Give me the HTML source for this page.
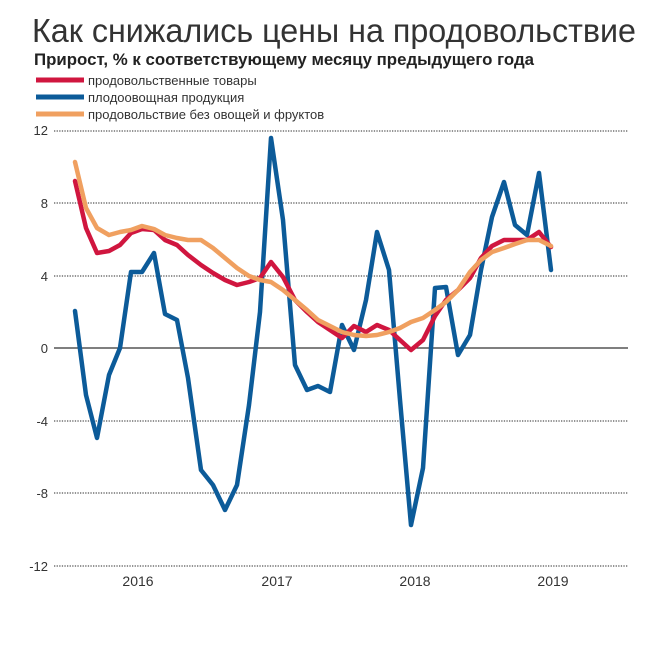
<!DOCTYPE html>
<html><head><meta charset="utf-8"><style>
body{margin:0;background:#fff;width:665px;height:640px;overflow:hidden;font-family:"Liberation Sans","DejaVu Sans",sans-serif}
</style></head><body>
<svg width="665" height="640" xmlns="http://www.w3.org/2000/svg" font-family="Liberation Sans, DejaVu Sans, sans-serif">
<text x="32" y="42" font-size="33" fill="#333" textLength="604" lengthAdjust="spacingAndGlyphs">Как снижались цены на продовольствие</text>
<text x="34" y="65" font-size="16.5" font-weight="bold" fill="#222" textLength="500" lengthAdjust="spacingAndGlyphs">Прирост, % к соответствующему месяцу предыдущего года</text>
<g stroke-width="5">
<line x1="36" y1="80" x2="84" y2="80" stroke="#d0163f"/>
<line x1="36" y1="97" x2="84" y2="97" stroke="#0c5b99"/>
<line x1="36" y1="114" x2="84" y2="114" stroke="#f0a060"/>
</g>
<g font-size="13" fill="#333">
<text x="88" y="85">продовольственные товары</text>
<text x="88" y="102">плодоовощная продукция</text>
<text x="88" y="119">продовольствие без овощей и фруктов</text>
</g>
<g stroke="#555" stroke-width="1.3" stroke-dasharray="1.3 1.3">
<line x1="54" y1="131" x2="628" y2="131"/>
<line x1="54" y1="203" x2="628" y2="203"/>
<line x1="54" y1="276" x2="628" y2="276"/>
<line x1="54" y1="421" x2="628" y2="421"/>
<line x1="54" y1="493" x2="628" y2="493"/>
<line x1="54" y1="566" x2="628" y2="566"/>
</g>
<line x1="54" y1="348" x2="628" y2="348" stroke="#333" stroke-width="1.3"/>
<g font-size="13" fill="#333" text-anchor="end">
<text x="48" y="135">12</text><text x="48" y="208">8</text><text x="48" y="281">4</text>
<text x="48" y="353">0</text><text x="48" y="426">-4</text><text x="48" y="498">-8</text><text x="48" y="571">-12</text>
</g>
<g font-size="14" fill="#333" text-anchor="middle">
<text x="138" y="586">2016</text><text x="277" y="586">2017</text><text x="415" y="586">2018</text><text x="553" y="586">2019</text>
</g>
<g fill="none" stroke-width="4.5" stroke-linejoin="round" stroke-linecap="round">
<polyline stroke="#0c5b99" points="75,311 86,395 97,438 109,375 120,348 131,272 142,272 154,253 165,314 177,320 188,378 201,470 213,485 225,510 237,485 249,405 260,312 271,138 283,220 295,365 307,390 318,386 330,392 342,325 354,350 366,300 377,232 389,270 400,400 411,525 423,468 435,288 446,287 458,355 470,335 481,270 492,217 504,182 515,225 527,235 539,173 551,270"/>
<polyline stroke="#d0163f" points="75,181 86,228 97,253 109,251 120,245 131,233 142,229 154,230 165,240 177,245 188,255 201,265 213,273 225,280 237,285 249,282 260,278 271,262 283,277 295,300 307,312 318,322 330,330 342,338 354,326 366,332 377,325 389,330 400,340 411,350 423,340 435,316 446,300 458,290 470,278 481,258 492,246 504,240 515,240 527,240 539,232 551,247"/>
<polyline stroke="#f0a060" points="75,162 86,208 97,228 109,235 120,232 131,230 142,226 154,229 165,235 177,238 188,240 201,240 213,248 225,258 237,268 249,276 260,280 271,282 283,290 295,300 307,310 318,320 330,326 342,332 354,335 366,336 377,335 389,332 400,328 411,322 423,318 435,310 446,302 458,290 470,272 481,260 492,252 504,248 515,244 527,240 539,240 551,246"/>
</g>
</svg>
</body></html>
